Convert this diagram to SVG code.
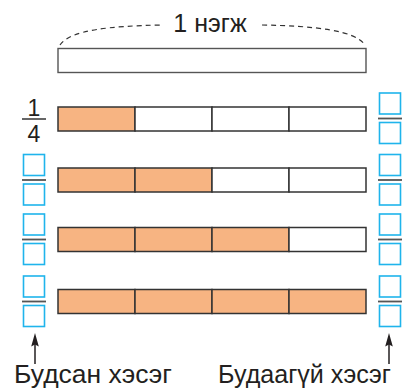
<svg xmlns="http://www.w3.org/2000/svg" width="403" height="389" viewBox="0 0 403 389">
<style>
.t{font-family:"Liberation Sans",Arial,sans-serif;fill:#231f20}
.cell{stroke:#333;stroke-width:1.5;fill:#fff}
.on{fill:#f7b482}
.bx{fill:#fff;stroke:#1fb4ec;stroke-width:1.6}
.fl{stroke:#555;stroke-width:1.8}
.dash{fill:none;stroke:#333;stroke-width:1.2;stroke-dasharray:5 4}
.ar{stroke:#231f20;stroke-width:1.5}
.ah{fill:#231f20}
</style>
<rect width="403" height="389" fill="#fff"/>
<g id="unit">
<path class="dash" d="M60,45 C70,30 110,26 162,25"/>
<path class="dash" d="M262,25 C314,26 355,30 365,45"/>
<text class="t" x="210" y="32" font-size="25" text-anchor="middle">1 нэгж</text>
<rect x="58" y="48.5" width="308" height="24" fill="#fff" stroke="#555" stroke-width="1.4"/>
</g>
<g id="row1">
<rect class="cell on" x="58" y="107" width="77" height="24"/>
<rect class="cell" x="135" y="107" width="77" height="24"/>
<rect class="cell" x="212" y="107" width="77" height="24"/>
<rect class="cell" x="289" y="107" width="77" height="24"/>
</g>
<g id="row2">
<rect class="cell on" x="58" y="168" width="77" height="24"/>
<rect class="cell on" x="135" y="168" width="77" height="24"/>
<rect class="cell" x="212" y="168" width="77" height="24"/>
<rect class="cell" x="289" y="168" width="77" height="24"/>
</g>
<g id="row3">
<rect class="cell on" x="58" y="227.5" width="77" height="24"/>
<rect class="cell on" x="135" y="227.5" width="77" height="24"/>
<rect class="cell on" x="212" y="227.5" width="77" height="24"/>
<rect class="cell" x="289" y="227.5" width="77" height="24"/>
</g>
<g id="row4">
<rect class="cell on" x="58" y="289.5" width="77" height="24"/>
<rect class="cell on" x="135" y="289.5" width="77" height="24"/>
<rect class="cell on" x="212" y="289.5" width="77" height="24"/>
<rect class="cell on" x="289" y="289.5" width="77" height="24"/>
</g>
<g id="frac-quarter">
<text class="t" x="34" y="116" font-size="23" text-anchor="middle">1</text>
<line class="fl" x1="22" y1="119" x2="46" y2="119"/>
<text class="t" x="34" y="142" font-size="23" text-anchor="middle">4</text>
</g>
<g id="frac-left2">
<rect class="bx" x="23.5" y="154.5" width="21" height="21"/>
<line class="fl" x1="22" y1="180" x2="46" y2="180"/>
<rect class="bx" x="23.5" y="184" width="21" height="21"/>
</g>
<g id="frac-left3">
<rect class="bx" x="23.5" y="214" width="21" height="21"/>
<line class="fl" x1="22" y1="239.5" x2="46" y2="239.5"/>
<rect class="bx" x="23.5" y="243.5" width="21" height="21"/>
</g>
<g id="frac-left4">
<rect class="bx" x="23.5" y="276" width="21" height="21"/>
<line class="fl" x1="22" y1="301.5" x2="46" y2="301.5"/>
<rect class="bx" x="23.5" y="305.5" width="21" height="21"/>
</g>
<g id="frac-right1">
<rect class="bx" x="379.5" y="93" width="21" height="21"/>
<line class="fl" x1="378" y1="118.5" x2="402" y2="118.5"/>
<rect class="bx" x="379.5" y="122.5" width="21" height="21"/>
</g>
<g id="frac-right2">
<rect class="bx" x="379.5" y="154.5" width="21" height="21"/>
<line class="fl" x1="378" y1="180" x2="402" y2="180"/>
<rect class="bx" x="379.5" y="184" width="21" height="21"/>
</g>
<g id="frac-right3">
<rect class="bx" x="379.5" y="214" width="21" height="21"/>
<line class="fl" x1="378" y1="239.5" x2="402" y2="239.5"/>
<rect class="bx" x="379.5" y="243.5" width="21" height="21"/>
</g>
<g id="frac-right4">
<rect class="bx" x="379.5" y="276" width="21" height="21"/>
<line class="fl" x1="378" y1="301.5" x2="402" y2="301.5"/>
<rect class="bx" x="379.5" y="305.5" width="21" height="21"/>
</g>
<g id="connectors">
<line class="ar" x1="35" y1="364" x2="35" y2="343"/>
<path class="ah" d="M35,333 L38.8,346.5 L35,344.5 L31.2,346.5 Z"/>
<line class="ar" x1="389" y1="364" x2="389" y2="343"/>
<path class="ah" d="M389,333 L392.8,346.5 L389,344.5 L385.2,346.5 Z"/>
</g>
<g id="label-left">
<text class="t" x="14" y="383" font-size="25" textLength="158" lengthAdjust="spacingAndGlyphs">Будсан хэсэг</text>
</g>
<g id="label-right">
<text class="t" x="218" y="383" font-size="25" textLength="173" lengthAdjust="spacingAndGlyphs">Будаагүй хэсэг</text>
</g>
</svg>
